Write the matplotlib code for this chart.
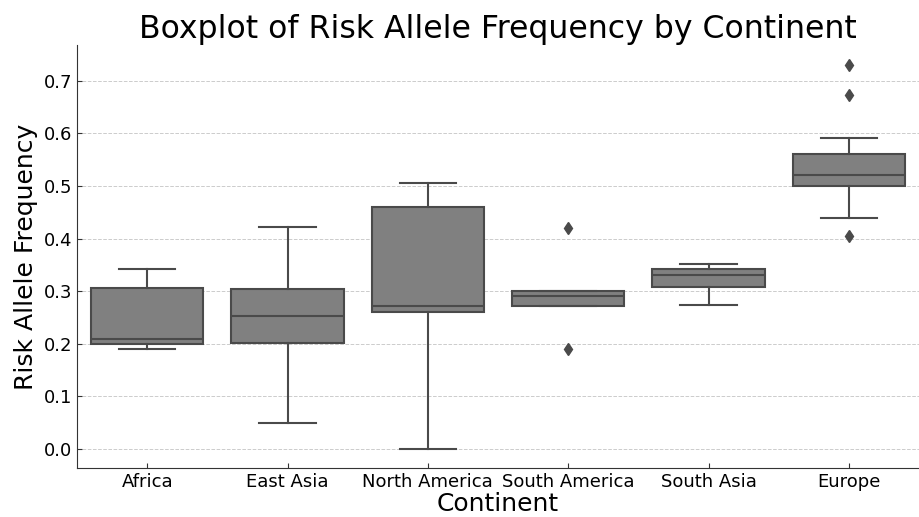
import matplotlib
matplotlib.use("Agg")
import matplotlib.pyplot as plt

continents = ["Africa", "East Asia", "North America", "South America", "South Asia", "Europe"]
q1 = [0.200, 0.201, 0.260, 0.271, 0.308, 0.500]
med = [0.210, 0.252, 0.271, 0.291, 0.330, 0.521]
q3 = [0.307, 0.304, 0.461, 0.301, 0.342, 0.561]
whislo = [0.190, 0.050, 0.000, 0.271, 0.273, 0.440]
whishi = [0.342, 0.422, 0.505, 0.301, 0.351, 0.591]
fliers = [[], [], [], [0.420, 0.190], [], [0.730, 0.673, 0.404]]

stats = []
for i, name in enumerate(continents):
    stats.append({"label": name, "q1": q1[i], "med": med[i], "q3": q3[i],
                  "whislo": whislo[i], "whishi": whishi[i], "fliers": fliers[i]})

edge = "#4a4a4a"
fig = plt.figure(figsize=(9.19, 5.17), dpi=100)
ax = fig.add_axes([0.0838, 0.0948, 0.9162, 0.8182])

ax.bxp(stats, positions=range(len(continents)), widths=0.8, patch_artist=True,
       boxprops=dict(facecolor="#808080", edgecolor=edge, linewidth=1.5),
       medianprops=dict(color=edge, linewidth=1.5),
       whiskerprops=dict(color=edge, linewidth=1.5),
       capprops=dict(color=edge, linewidth=1.5),
       flierprops=dict(marker="d", markerfacecolor=edge, markeredgecolor=edge, markersize=6))

ax.set_xlim(-0.5, len(continents) - 0.5)
ax.set_ylim(-0.036, 0.768)
ax.set_yticks([0.0, 0.1, 0.2, 0.3, 0.4, 0.5, 0.6, 0.7])
ax.set_xticks(range(len(continents)))
ax.set_xticklabels(continents)
ax.tick_params(axis="both", direction="in", labelsize=13, colors="#333333", labelcolor="black")
ax.yaxis.grid(True, linestyle="--", color="#cccccc", linewidth=0.7)
ax.set_axisbelow(True)
for s in ["top", "right"]:
    ax.spines[s].set_visible(False)
for s in ["left", "bottom"]:
    ax.spines[s].set_color("#333333")

ax.set_title("Boxplot of Risk Allele Frequency by Continent", fontsize=22.7, pad=4)
ax.set_xlabel("Continent", fontsize=18, labelpad=1)
ax.set_ylabel("Risk Allele Frequency", fontsize=18, labelpad=4)

fig.savefig("out.png", dpi=100)
